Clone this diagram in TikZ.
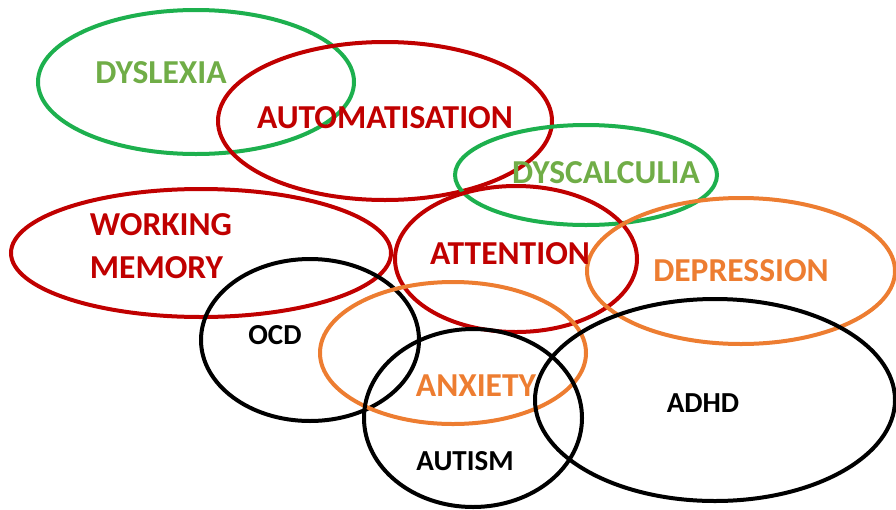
\documentclass[tikz,border=0pt]{standalone}
\usepackage{fontspec}
\setmainfont{Carlito}
\usepackage{tikz}
\usepackage{xcolor}
\definecolor{ringgreen}{HTML}{1DB04E}
\definecolor{textgreen}{HTML}{70AD47}
\definecolor{darkred}{HTML}{C00000}
\definecolor{orange}{HTML}{ED7D31}

\begin{document}
\begin{tikzpicture}[x=1pt,y=-1pt,line width=4pt]
	\tikzstyle{ring}=[draw=black]
	\tikzstyle{green ring}=[ring, draw=ringgreen]
	\tikzstyle{red ring}=[ring, draw=darkred]
	\tikzstyle{orange ring}=[ring, draw=orange]
	\tikzstyle{big label}=[font=\fontsize{33.5}{33.5}\selectfont\bfseries, inner sep=0pt]
	\tikzstyle{small label}=[font=\fontsize{29}{29}\selectfont\bfseries, inner sep=0pt, text=black]

	\useasboundingbox (0,0) rectangle (896,509);

	% Draw the ellipses
	\foreach \cx/\cy/\rx/\ry/\kind in {196/82/158/72/green ring,
		385/121/167/79/red ring,
		586/175/131/50/green ring,
		201/253/190/64/red ring,
		516/259/121/73/red ring,
		741/271/154/73/orange ring,
		310/340/109/81/ring,
		453/353/133/71/orange ring,
		473/418/109/89/ring,
		715/400/180/101/ring}
	\draw[\kind] (\cx,\cy) ellipse [x radius=\rx, y radius=\ry];

	% Labels
	\node[big label, text=textgreen] (dyslexia) at (161,73) {DYSLEXIA};
	\node[big label, text=darkred] (automatisation) at (385,118) {AUTOMATISATION};
	\node[big label, text=textgreen] (dyscalculia) at (606,173) {DYSCALCULIA};
	\node[big label, text=darkred, align=left] (wm) at (161,246) {WORKING\\[9pt]MEMORY};
	\node[big label, text=darkred] (attention) at (510,254) {ATTENTION};
	\node[big label, text=orange] (depression) at (741,271) {DEPRESSION};
	\node[big label, text=orange] (anxiety) at (476,386) {ANXIETY};
	\node[small label] (ocd) at (275,335) {OCD};
	\node[small label] (autism) at (465,461) {AUTISM};
	\node[small label] (adhd) at (703,403) {ADHD};
\end{tikzpicture}
\end{document}
